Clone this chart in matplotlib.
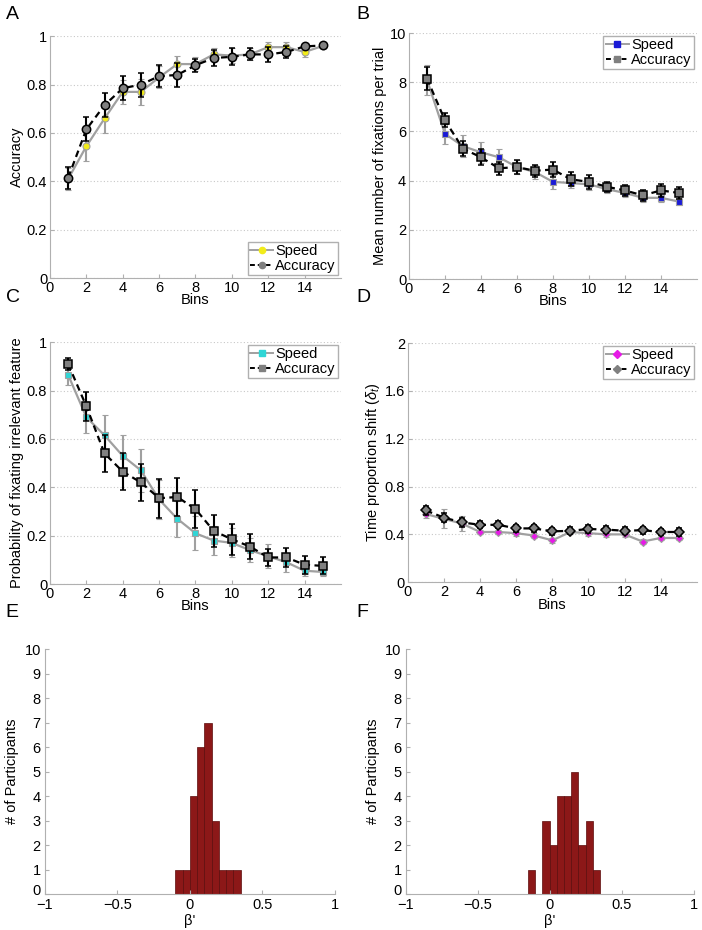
import numpy as np
import matplotlib
matplotlib.use("Agg")
import matplotlib.pyplot as plt
import matplotlib.transforms as mtransforms
from matplotlib.lines import Line2D

plt.rcParams['font.family'] = ['Liberation Sans', 'DejaVu Sans']
plt.rcParams['mathtext.fontset'] = 'custom'
plt.rcParams['mathtext.rm'] = 'Liberation Sans'
plt.rcParams['mathtext.it'] = 'Liberation Sans:italic'

# ── data ─────────────────────────────────────────
bins = np.arange(1, 16)

acc_speed = [0.41, 0.545, 0.66, 0.77, 0.77, 0.83, 0.885, 0.885, 0.925, 0.92, 0.925, 0.955, 0.955, 0.935, 0.96]
acc_speed_err = [0.045, 0.06, 0.06, 0.05, 0.055, 0.045, 0.035, 0.03, 0.025, 0.03, 0.025, 0.02, 0.02, 0.02, 0.01]
acc_acc = [0.415, 0.615, 0.715, 0.785, 0.80, 0.835, 0.84, 0.88, 0.91, 0.915, 0.925, 0.925, 0.935, 0.958, 0.962]
acc_acc_err = [0.045, 0.05, 0.05, 0.05, 0.05, 0.045, 0.048, 0.028, 0.035, 0.035, 0.025, 0.03, 0.025, 0.012, 0.008]

fix_speed = [8.1, 5.9, 5.4, 5.15, 4.95, 4.55, 4.35, 3.95, 3.9, 3.85, 3.65, 3.5, 3.3, 3.3, 3.15]
fix_speed_err = [0.6, 0.4, 0.45, 0.42, 0.33, 0.3, 0.3, 0.28, 0.2, 0.25, 0.15, 0.15, 0.15, 0.15, 0.15]
fix_acc = [8.15, 6.45, 5.3, 4.95, 4.5, 4.55, 4.4, 4.45, 4.05, 3.95, 3.75, 3.6, 3.4, 3.6, 3.5]
fix_acc_err = [0.45, 0.28, 0.3, 0.32, 0.27, 0.27, 0.25, 0.3, 0.28, 0.28, 0.2, 0.22, 0.22, 0.27, 0.25]

irr_speed = [0.865, 0.69, 0.615, 0.53, 0.47, 0.35, 0.27, 0.21, 0.18, 0.17, 0.14, 0.115, 0.09, 0.055, 0.05]
irr_speed_err = [0.04, 0.065, 0.085, 0.085, 0.088, 0.08, 0.075, 0.07, 0.06, 0.06, 0.05, 0.05, 0.04, 0.02, 0.015]
irr_acc = [0.91, 0.735, 0.54, 0.465, 0.42, 0.355, 0.36, 0.31, 0.22, 0.185, 0.155, 0.11, 0.11, 0.08, 0.075]
irr_acc_err = [0.025, 0.06, 0.078, 0.078, 0.078, 0.08, 0.078, 0.078, 0.065, 0.063, 0.05, 0.035, 0.04, 0.038, 0.035]

shift_speed = [0.57, 0.53, 0.49, 0.42, 0.42, 0.41, 0.39, 0.35, 0.42, 0.41, 0.40, 0.40, 0.34, 0.37, 0.37]
shift_speed_err = [0.03, 0.08, 0.06, 0.02, 0.02, 0.02, 0.02, 0.02, 0.02, 0.02, 0.02, 0.02, 0.02, 0.02, 0.02]
shift_acc = [0.60, 0.54, 0.50, 0.48, 0.48, 0.45, 0.45, 0.425, 0.43, 0.445, 0.44, 0.43, 0.435, 0.42, 0.42]
shift_acc_err = [0.04, 0.04, 0.04, 0.03, 0.03, 0.03, 0.03, 0.03, 0.03, 0.03, 0.03, 0.03, 0.03, 0.025, 0.03]

hist_edges = np.round(np.arange(-0.15, 0.351, 0.05), 3)
hist_e_counts = [0, 1, 1, 4, 6, 7, 3, 1, 1, 1]
hist_f_counts = [1, 0, 3, 2, 4, 4, 5, 2, 3, 1]

GRAY = '#a0a0a0'
AXC = '#b0b0b0'


def style_axes(ax, ylim, yticks, grid=True):
    for s in ['top', 'right']:
        ax.spines[s].set_visible(False)
    for s in ['left', 'bottom']:
        ax.spines[s].set_color(AXC)
        ax.spines[s].set_linewidth(0.8)
    ax.tick_params(direction='in', length=3, color=AXC, labelsize=10.5, pad=2)
    ax.set_ylim(*ylim)
    ax.set_yticks(yticks)
    if grid:
        ax.yaxis.grid(True, linestyle=(0, (1, 2)), color='#c8c8c8', linewidth=0.8)
        ax.set_axisbelow(True)


def line_panel(ax, speed, speed_err, acc, acc_err, marker, speed_color, ms_s, ms_a, loc):
    ax.errorbar(bins, speed, yerr=speed_err, color=GRAY, ecolor=GRAY, lw=1.6,
                elinewidth=1.5, capsize=2.2, capthick=1.3, marker=marker,
                mfc=speed_color, mec=GRAY, mew=0.8, ms=ms_s, zorder=3)
    ax.errorbar(bins, acc, yerr=acc_err, color='black', ecolor='black', lw=1.6,
                ls=(0, (3, 2)), elinewidth=1.5, capsize=2.2, capthick=1.3,
                marker=marker, mfc='#808080', mec='black', mew=1.1, ms=ms_a,
                zorder=4)
    ax.set_xlim(0, 16)
    ax.set_xticks(range(0, 15, 2))
    ax.set_xlabel('Bins', fontsize=10.5, labelpad=-1)
    handles = [Line2D([], [], color=GRAY, lw=1.4, marker=marker, mfc=speed_color,
                      mec=speed_color, ms=4.5),
               Line2D([], [], color='black', lw=1.4, ls=(0, (2.5, 1.5)), marker=marker,
                      mfc='#808080', mec='#808080', ms=4.5)]
    ax.legend(handles, ['Speed', 'Accuracy'], loc=loc, fontsize=10.5,
              handlelength=1.6, handletextpad=0.15, borderpad=0.15,
              labelspacing=0.05, fancybox=False, edgecolor=AXC,
              borderaxespad=0.2, framealpha=1)


fig = plt.figure(figsize=(7.02, 9.30), dpi=100)

# ── A ──
axA = fig.add_axes([0.0712, 0.701, 0.4145, 0.260])
style_axes(axA, (0, 1), [0, 0.2, 0.4, 0.6, 0.8, 1])
axA.set_yticklabels(['0', '0.2', '0.4', '0.6', '0.8', '1'])
line_panel(axA, acc_speed, acc_speed_err, acc_acc, acc_acc_err, 'o', '#f2ec1a', 5, 6, 'lower right')
axA.set_ylabel('Accuracy', fontsize=10.5, labelpad=2)

# ── B ──
axB = fig.add_axes([0.5826, 0.700, 0.410, 0.2645])
style_axes(axB, (0, 10), [0, 2, 4, 6, 8, 10])
line_panel(axB, fix_speed, fix_speed_err, fix_acc, fix_acc_err, 's', '#1a1ad6', 4, 6, 'upper right')
axB.set_ylabel('Mean number of fixations per trial', fontsize=10.5, labelpad=2)

# ── C ──
axC = fig.add_axes([0.0712, 0.372, 0.4145, 0.260])
style_axes(axC, (0, 1), [0, 0.2, 0.4, 0.6, 0.8, 1])
axC.set_yticklabels(['0', '0.2', '0.4', '0.6', '0.8', '1'])
line_panel(axC, irr_speed, irr_speed_err, irr_acc, irr_acc_err, 's', '#2fd6d6', 4.5, 6, 'upper right')
axC.set_ylabel('Probability of fixating irrelevant feature', fontsize=10.5, labelpad=2)

# ── D ──
axD = fig.add_axes([0.581, 0.374, 0.4115, 0.257])
style_axes(axD, (0, 2), [0, 0.4, 0.8, 1.2, 1.6, 2])
axD.set_yticklabels(['0', '0.4', '0.8', '1.2', '1.6', '2'])
line_panel(axD, shift_speed, shift_speed_err, shift_acc, shift_acc_err, 'D', '#e61ae6', 4.5, 5.5, 'upper right')
axD.set_ylabel(r'Time proportion shift ($\delta_t$)', fontsize=10.5, labelpad=2)

# ── E, F histograms ──
lift = mtransforms.ScaledTranslation(0, 3 / 72, fig.dpi_scale_trans)
for rect, counts in [([0.064, 0.0387, 0.413, 0.263], hist_e_counts),
                     ([0.578, 0.0387, 0.410, 0.263], hist_f_counts)]:
    ax = fig.add_axes(rect)
    style_axes(ax, (0, 10), range(0, 11), grid=False)
    ax.tick_params(axis='x', pad=3)
    ax.tick_params(axis='y', pad=3)
    ax.bar(hist_edges[:-1], counts, width=0.05, align='edge', color='#8c1818',
           edgecolor='#5c0c0c', linewidth=0.5)
    ax.set_xlim(-1, 1)
    ax.set_xticks([-1, -0.5, 0, 0.5, 1])
    ax.set_xticklabels(['\u22121', '\u22120.5', '0', '0.5', '1'])
    ax.set_xlabel("\u03b2'", fontsize=10.5, labelpad=1)
    ax.set_ylabel('# of Participants', fontsize=10.5, labelpad=4)
    # nudge the lowest count label up so it clears the x labels
    lab0 = ax.yaxis.get_major_ticks()[0].label1
    lab0.set_transform(lab0.get_transform() + lift)

# panel letters
for letter, x, y in [('A', 0.008, 0.984), ('B', 0.508, 0.984),
                     ('C', 0.008, 0.680), ('D', 0.508, 0.680),
                     ('E', 0.008, 0.341), ('F', 0.508, 0.341)]:
    fig.text(x, y, letter, fontsize=14, ha='left', va='center')

fig.savefig('out.png', dpi=100)
